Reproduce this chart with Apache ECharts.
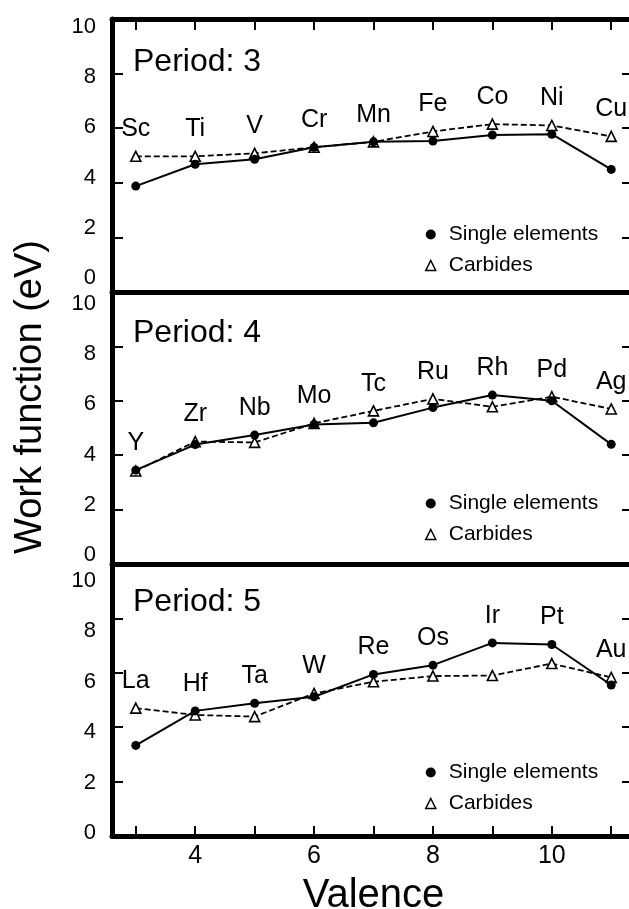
<!DOCTYPE html>
<html>
<head>
<meta charset="utf-8">
<script src="https://cdn.jsdelivr.net/npm/echarts@6/dist/echarts.min.js"></script>
<style>
html,body{margin:0;padding:0;background:#fff;}
#chart{width:629px;height:909px;}
</style>
</head>
<body>
<div id="chart"></div>
<script>
// ---- data ----
const valence = [3, 4, 5, 6, 7, 8, 9, 10, 11];
const names3 = ['Sc', 'Ti', 'V', 'Cr', 'Mn', 'Fe', 'Co', 'Ni', 'Cu'];
const single3 = [3.88, 4.68, 4.86, 5.30, 5.50, 5.53, 5.75, 5.78, 4.49];
const carbide3 = [4.97, 4.97, 5.08, 5.30, 5.50, 5.88, 6.15, 6.10, 5.70];
const names4 = ['Y', 'Zr', 'Nb', 'Mo', 'Tc', 'Ru', 'Rh', 'Pd', 'Ag'];
const single4 = [3.45, 4.39, 4.74, 5.13, 5.19, 5.75, 6.21, 6.00, 4.40];
const carbide4 = [3.42, 4.50, 4.47, 5.17, 5.63, 6.07, 5.78, 6.15, 5.70];
const names5 = ['La', 'Hf', 'Ta', 'W', 'Re', 'Os', 'Ir', 'Pt', 'Au'];
const single5 = [3.33, 4.60, 4.88, 5.12, 5.94, 6.28, 7.10, 7.04, 5.55];
const carbide5 = [4.70, 4.45, 4.39, 5.24, 5.67, 5.88, 5.90, 6.34, 5.83];
const periodTitles = ['Period: 3', 'Period: 4', 'Period: 5'];
const yTickValues = [0, 2, 4, 6, 8, 10];
const xTickLabelValues = [4, 6, 8, 10];
const seriesNames = ['Single elements', 'Carbides'];
const xTitle = 'Valence';
const yTitle = 'Work function (eV)';

// ---- layout ----
const FONT = "'Liberation Sans', Arial, Helvetica, sans-serif";
const panels = [
  {names: names3, single: single3, carbide: carbide3, top: 19, height: 273, lab0: 278, lab10: 26.7, titleTop: 46, legendTop: 223},
  {names: names4, single: single4, carbide: carbide4, top: 292, height: 272, lab0: 555, lab10: 304, titleTop: 317, legendTop: 492},
  {names: names5, single: single5, carbide: carbide5, top: 564, height: 272, lab0: 833.3, lab10: 580.7, titleTop: 586, legendTop: 761}
];
const LW = 5;

const grid = [], xAxis = [], yAxis = [], series = [], title = [], legend = [];

panels.forEach((p, i) => {
  grid.push({left: 112, right: -6, top: p.top, height: p.height, containLabel: false, outerBoundsMode: 'none'});
  const isLast = i === panels.length - 1;
  xAxis.push({
    type: 'value', gridIndex: i, min: 2.6, max: 11.4, position: 'bottom',
    axisLine: {show: true, onZero: false, lineStyle: {color: '#000', width: LW}},
    axisTick: {show: isLast, inside: true, length: 10, lineStyle: {color: '#000', width: 2}, customValues: valence},
    axisLabel: {show: isLast, customValues: xTickLabelValues, color: '#000', fontSize: 25, fontFamily: FONT, margin: 8},
    splitLine: {show: false},
    name: isLast ? xTitle : '', nameLocation: 'middle', nameGap: 40,
    nameTextStyle: {color: '#000', fontSize: 40, fontFamily: FONT}
  });
  // main y axis (left)
  yAxis.push({
    type: 'value', gridIndex: i, min: 0, max: 10, interval: 2, position: 'left',
    axisLine: {show: true, onZero: false, lineStyle: {color: '#000', width: LW}},
    axisTick: {show: true, inside: true, length: 11, lineStyle: {color: '#000', width: 2}},
    axisLabel: {show: false}, splitLine: {show: false}
  });
  // right y axis (ticks only)
  yAxis.push({
    type: 'value', gridIndex: i, min: 0, max: 10, interval: 2, position: 'right',
    axisLine: {show: true, onZero: false, lineStyle: {color: '#000', width: LW}},
    axisTick: {show: true, inside: true, length: 13, lineStyle: {color: '#000', width: 2}},
    axisLabel: {show: false}, splitLine: {show: false}
  });
  // label column (as printed in the figure)
  const s = (p.lab0 - p.lab10) / 10;
  yAxis.push({
    type: 'value', gridIndex: i, position: 'left',
    min: (p.lab0 - (p.top + p.height)) / s, max: (p.lab0 - p.top) / s,
    axisLine: {show: false}, axisTick: {show: false}, splitLine: {show: false},
    axisLabel: {show: true, customValues: yTickValues, color: '#000', fontSize: 22, fontFamily: FONT, margin: 16}
  });

  const yIdx = i * 3;
  series.push({
    name: seriesNames[1], type: 'line', xAxisIndex: i, yAxisIndex: yIdx,
    data: valence.map((v, k) => [v, p.carbide[k]]),
    symbol: 'triangle', symbolSize: 10,
    lineStyle: {color: '#000', width: 1.8, type: [6, 3]},
    itemStyle: {color: '#fff', borderColor: '#000', borderWidth: 1.6},
    z: 2, animation: false
  });
  series.push({
    name: seriesNames[0], type: 'line', xAxisIndex: i, yAxisIndex: yIdx,
    data: valence.map((v, k) => [v, p.single[k]]),
    symbol: 'circle', symbolSize: 9,
    lineStyle: {color: '#000', width: 2},
    itemStyle: {color: '#000', borderColor: '#000', borderWidth: 0},
    z: 3, animation: false
  });
  series.push({
    name: 'labels' + i, type: 'scatter', xAxisIndex: i, yAxisIndex: yIdx,
    data: valence.map((v, k) => [v, Math.max(p.single[k], p.carbide[k])]),
    symbolSize: 0, itemStyle: {color: '#000', opacity: 1}, silent: true,
    label: {show: true, position: 'inside', offset: [0, -27],
      formatter: (d) => p.names[d.dataIndex],
      color: '#000', textBorderWidth: 0, opacity: 1, fontSize: 25, fontFamily: FONT},
    emphasis: {disabled: true},
    z: 4, animation: false
  });

  title.push({text: periodTitles[i], left: 133, top: p.titleTop, padding: 0,
    textStyle: {color: '#000', fontSize: 32, fontWeight: 'normal', fontFamily: FONT}});

  legend.push({
    left: 425, top: p.legendTop + 1, orient: 'vertical', itemGap: 10, padding: 0,
    itemWidth: 10, itemHeight: 10, selectedMode: false,
    textStyle: {color: '#000', fontSize: 21, fontFamily: FONT, lineHeight: 21, padding: [0, 0, 0, 8]},
    data: [
      {name: seriesNames[0], icon: 'circle', itemStyle: {color: '#000', borderWidth: 0}},
      {name: seriesNames[1], icon: 'triangle', itemStyle: {color: '#fff', borderColor: '#000', borderWidth: 1.5}}
    ]
  });
});

// top border of first panel
xAxis.push({
  type: 'value', gridIndex: 0, min: 2.6, max: 11.4, position: 'top',
  axisLine: {show: true, onZero: false, lineStyle: {color: '#000', width: LW}},
  axisTick: {show: true, inside: true, length: 11, lineStyle: {color: '#000', width: 2}, customValues: valence},
  axisLabel: {show: false}, splitLine: {show: false}
});

const chart = echarts.init(document.getElementById('chart'), null, {renderer: 'canvas'});
chart.setOption({
  backgroundColor: '#fff',
  animation: false,
  title, legend, grid, xAxis, yAxis, series,
  graphic: [{
    type: 'text', x: 31, y: 397, rotation: Math.PI / 2,
    style: {text: yTitle, fill: '#000', font: "38px 'Liberation Sans', Arial, sans-serif",
      textAlign: 'center', textVerticalAlign: 'middle'}
  }]
});
</script>
</body>
</html>
